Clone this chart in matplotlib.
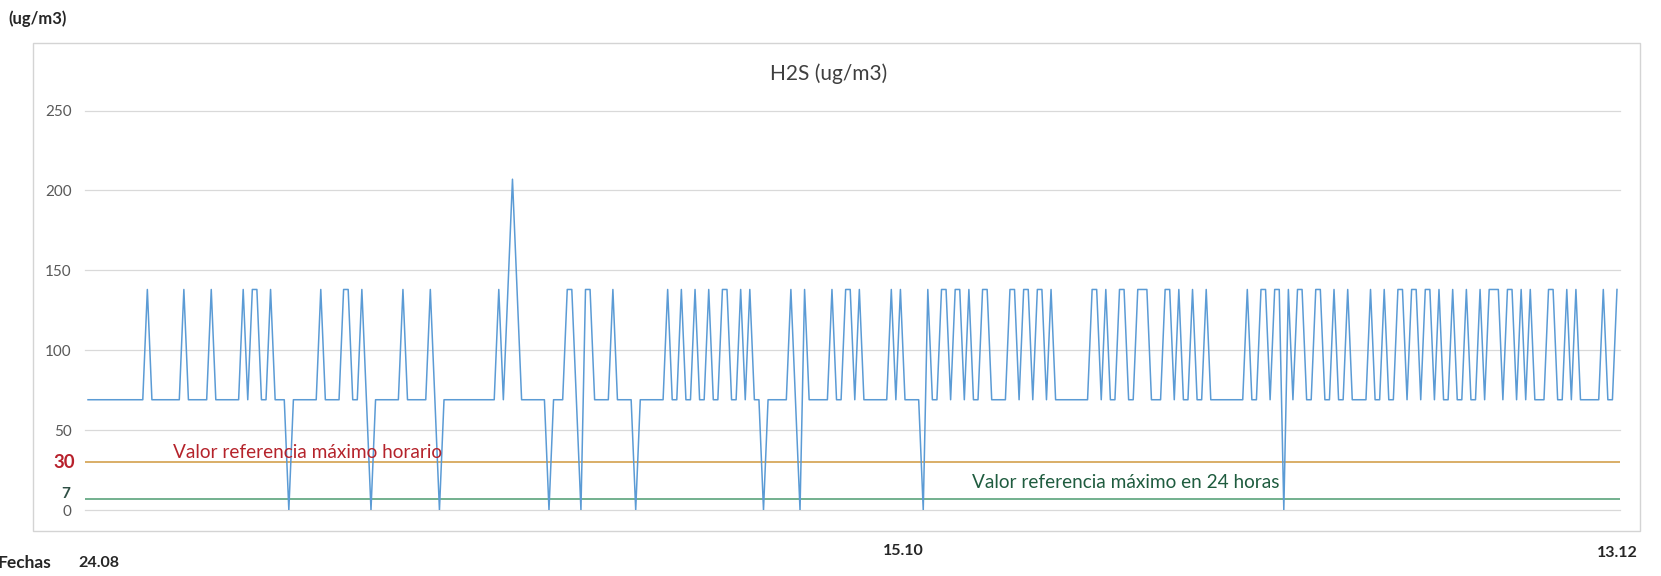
import matplotlib
matplotlib.use("Agg")
import matplotlib.pyplot as plt
from matplotlib.patches import Rectangle

# H2S (ug/m3), tres lecturas por dia
h2s = [
    69, 69, 69, 69, 69, 69, 69, 69, 69, 69, 69, 69, 69, 138, 69, 69, 69, 69, 69, 69,
    69, 138, 69, 69, 69, 69, 69, 138, 69, 69, 69, 69, 69, 69, 138, 69, 138, 138, 69, 69,
    138, 69, 69, 69, 0, 69, 69, 69, 69, 69, 69, 138, 69, 69, 69, 69, 138, 138, 69, 69,
    138, 69, 0, 69, 69, 69, 69, 69, 69, 138, 69, 69, 69, 69, 69, 138, 69, 0, 69, 69,
    69, 69, 69, 69, 69, 69, 69, 69, 69, 69, 138, 69, 138, 207, 138, 69, 69, 69, 69, 69,
    69, 0, 69, 69, 69, 138, 138, 69, 0, 138, 138, 69, 69, 69, 69, 138, 69, 69, 69, 69,
    0, 69, 69, 69, 69, 69, 69, 138, 69, 69, 138, 69, 69, 138, 69, 69, 138, 69, 69, 138,
    138, 69, 69, 138, 69, 138, 69, 69, 0, 69, 69, 69, 69, 69, 138, 69, 0, 138, 69, 69,
    69, 69, 69, 138, 69, 69, 138, 138, 69, 138, 69, 69, 69, 69, 69, 69, 138, 69, 138, 69,
    69, 69, 69, 0, 138, 69, 69, 138, 138, 69, 138, 138, 69, 138, 69, 69, 138, 138, 69, 69,
    69, 69, 138, 138, 69, 138, 138, 69, 138, 138, 69, 138, 69, 69, 69, 69, 69, 69, 69, 69,
    138, 138, 69, 138, 69, 69, 138, 138, 69, 69, 138, 138, 138, 69, 69, 69, 138, 138, 69, 138,
    69, 69, 138, 69, 69, 138, 69, 69, 69, 69, 69, 69, 69, 69, 138, 69, 69, 138, 138, 69,
    138, 138, 0, 138, 69, 138, 138, 69, 69, 138, 138, 69, 69, 138, 69, 69, 138, 69, 69, 69,
    69, 138, 69, 69, 138, 69, 69, 138, 138, 69, 138, 138, 69, 138, 138, 69, 138, 69, 69, 138,
    69, 69, 138, 69, 69, 138, 69, 138, 138, 138, 69, 138, 138, 69, 138, 69, 138, 69, 69, 69,
    138, 138, 69, 69, 138, 69, 138, 69, 69, 69, 69, 69, 138, 69, 69, 138,
]

y_ticks = [0, 50, 100, 150, 200, 250]
ref_horario = 30
ref_24h = 7
fechas = ["24.08", "15.10", "13.12"]

plt.rcParams['font.family'] = ['Lato', 'DejaVu Sans']

W, Hh = 1661, 576
fig = plt.figure(figsize=(W / 100, Hh / 100), dpi=100)

# marco del grafico
fig.patches.append(Rectangle((33 / W, 1 - 531 / Hh), 1607 / W, 488 / Hh,
                             transform=fig.transFigure, fill=False,
                             edgecolor='#d4d4d4', lw=1.0))

ax = fig.add_axes([85 / W, 1 - 510 / Hh, 1535 / W, 399.5 / Hh])
x = list(range(len(h2s)))

for v in y_ticks:
    ax.axhline(v, color='#d9d9d9', lw=0.9, zorder=1, clip_on=False)
ax.axhline(ref_horario, color='#d3a14e', lw=1.2, zorder=2)
ax.axhline(ref_24h, color='#5aa37c', lw=1.2, zorder=2)
ax.plot(x, h2s, color='#5b9bd5', lw=1.1, zorder=3)

ax.set_xlim(-0.66, len(h2s) - 1 + 0.66)
ax.set_ylim(0, 250)
for s in ax.spines.values():
    s.set_visible(False)
ax.set_xticks([])
ax.set_yticks(y_ticks)
ax.set_yticklabels([str(v) for v in y_ticks], color='#595959', fontsize=11)
ax.tick_params(axis='y', length=0, pad=9.5)

ytr = ax.get_yaxis_transform()
ax.text(-10 / 1535, ref_horario, str(ref_horario), transform=ytr, ha='right', va='center',
        fontsize=13.5, color='#b8212c', fontweight='bold')
ax.text(-15 / 1535, ref_24h + 3, str(ref_24h), transform=ytr, ha='right', va='center',
        fontsize=11, color='#2f4f44', fontweight='bold')

# textos
fig.text(829 / W, 1 - 74 / Hh, "H2S (ug/m3)", ha='center', va='center',
         fontsize=15, color='#3f3f3f')
fig.text(8 / W, 1 - 19 / Hh, "(ug/m3)", ha='left', va='center',
         fontsize=12, fontweight='bold', color='#262626')
fig.text(173 / W, 1 - 452 / Hh, "Valor referencia máximo horario", ha='left', va='center',
         fontsize=13.7, color='#b5232b')
fig.text(972 / W, 1 - 483 / Hh, "Valor referencia máximo en 24 horas", ha='left', va='center',
         fontsize=13.7, color='#1f5c3f')

fig.text(-2 / W, 1 - 563 / Hh, "Fechas", ha='left', va='center',
         fontsize=12.5, fontweight='bold', color='#262626')
fig.text(78 / W, 1 - 563 / Hh, fechas[0], ha='left', va='center',
         fontsize=11.5, fontweight='bold', color='#262626')
fig.text(903 / W, 1 - 551 / Hh, fechas[1], ha='center', va='center',
         fontsize=11.5, fontweight='bold', color='#262626')
fig.text(1617 / W, 1 - 553 / Hh, fechas[2], ha='center', va='center',
         fontsize=11.5, fontweight='bold', color='#262626')

fig.savefig("out.png", dpi=100, facecolor='white')
